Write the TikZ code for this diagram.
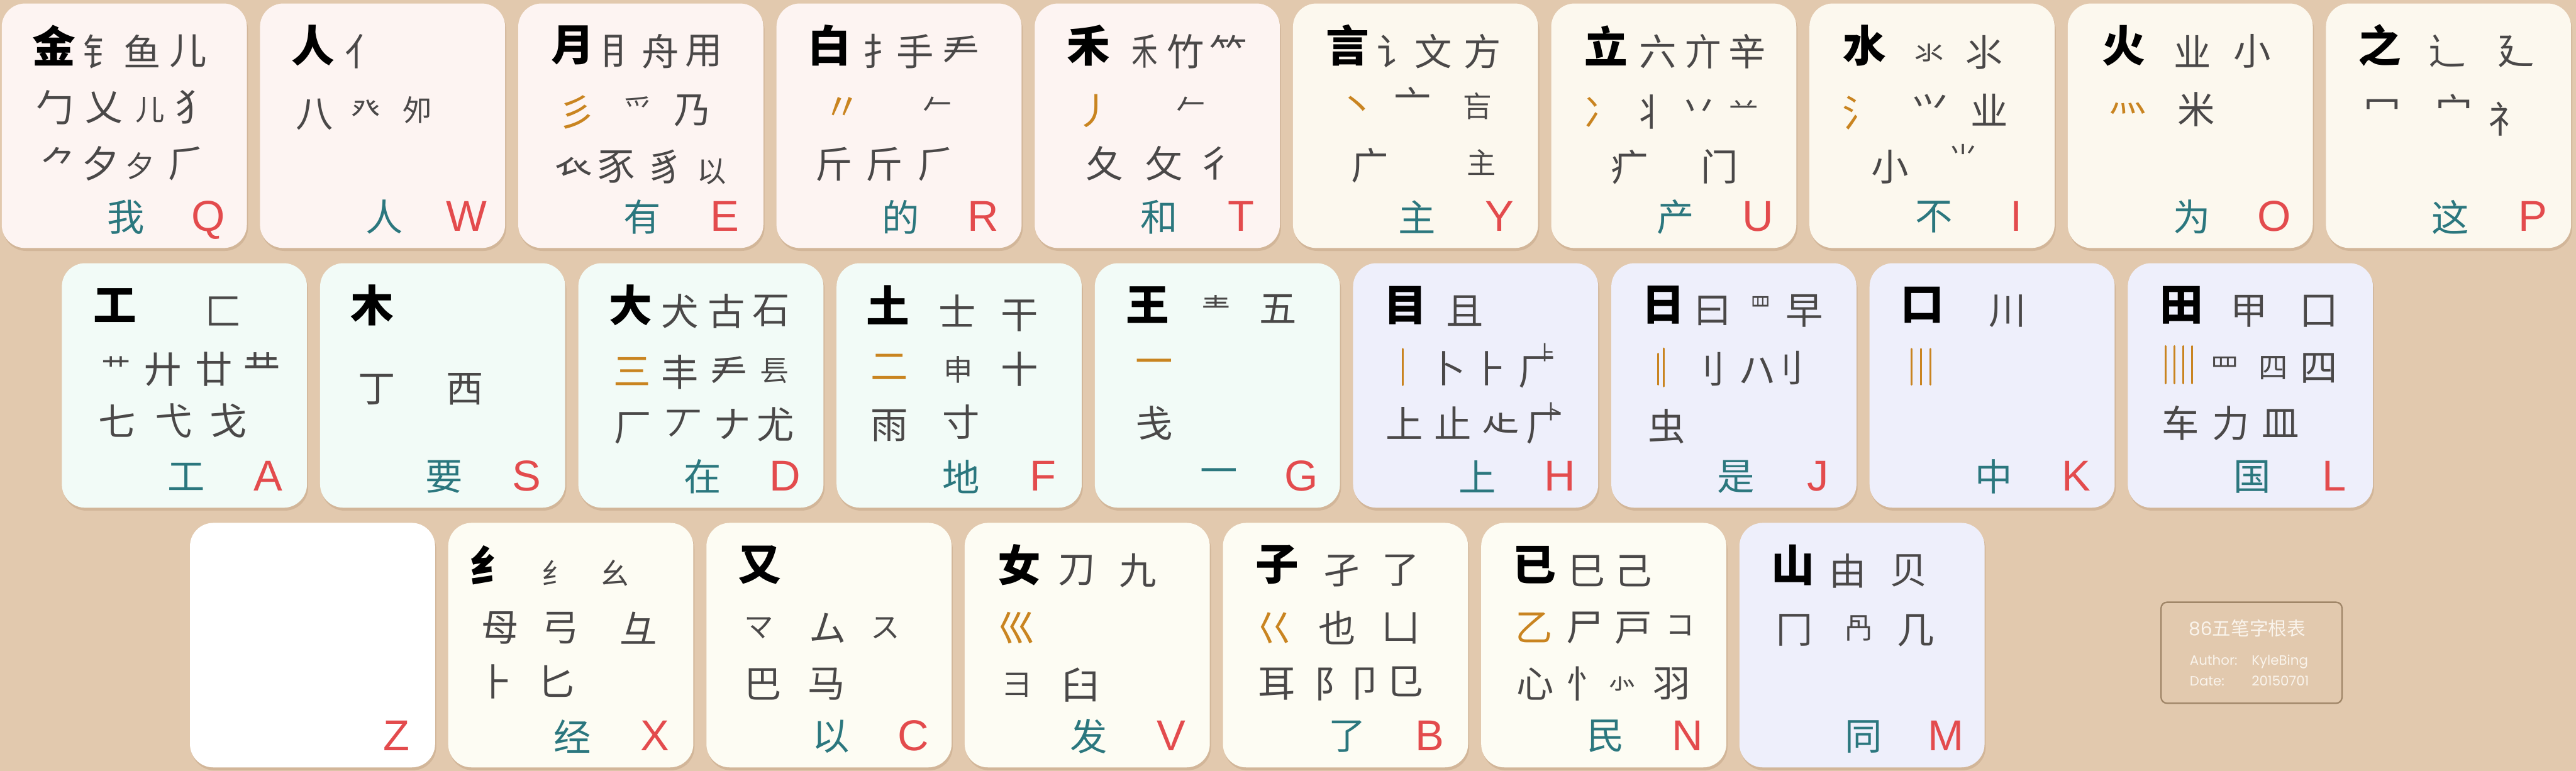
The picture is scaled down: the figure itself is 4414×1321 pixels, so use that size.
\documentclass[tikz,border=0pt]{standalone}
\usepackage{fontspec}
\setmainfont{Liberation Sans}
\newfontfamily\cjk{Noto Sans CJK SC}
\newfontfamily\geo{Poppins}
\definecolor{bgc}{HTML}{E2C9AE}
\definecolor{shadowc}{HTML}{D2B699}
\definecolor{pinkk}{HTML}{FDF4F2}
\definecolor{creamA}{HTML}{FCF8EE}
\definecolor{mintk}{HTML}{F2FBF7}
\definecolor{lavk}{HTML}{EEEFFB}
\definecolor{creamB}{HTML}{FDFCF3}
\definecolor{radgray}{HTML}{4A4848}
\definecolor{orng}{HTML}{C98420}
\definecolor{tealc}{HTML}{2B777E}
\definecolor{redc}{HTML}{E34B4D}
\definecolor{boxline}{HTML}{A08668}
\definecolor{boxtext}{HTML}{FAF4EC}
\newcounter{gc}
\newcommand\G[4][rad]{\stepcounter{gc}\node[#1] (g\thegc) at (#2,#3) {#4};}
\newcommand\Bt[2]{\stepcounter{gc}\node[hz] (g\thegc) at (213,366) {#1};\stepcounter{gc}\node[ltr] (g\thegc) at (354,390) {#2};}
\newcommand\Key[4]{\fill[shadowc] (#2+2,#3+5) [rounded corners=40] rectangle ++(420,419);
  \node[keybox, fill=#4] (key#1) at (#2+210,#3+209.5) {};}
\newcommand\tinyg[1]{{\fontsize{34}{34}\selectfont #1}}
\tikzset{
  keybox/.style={rectangle, minimum width=420pt, minimum height=419pt, rounded corners=40pt, inner sep=0pt, draw=none},
  main/.style={font=\cjk\bfseries\fontsize{74}{74}\selectfont, text=black, inner sep=0pt},
  rad/.style={font=\cjk\fontsize{64}{64}\selectfont, text=radgray, inner sep=0pt},
  smallrad/.style={rad, font=\cjk\fontsize{50}{50}\selectfont},
  baserad/.style={rad, anchor=base},
  org/.style={rad, text=orng},
  hz/.style={font=\cjk\fontsize{64}{64}\selectfont, text=tealc, inner sep=0pt},
  ltr/.style={font=\fontsize{74}{74}\selectfont, text=redc, inner sep=0pt, anchor=base},
  orl/.style={draw=orng, line width=3.2pt, line cap=round},
  info/.style={font=\geo\fontsize{23}{23}\selectfont, text=boxtext, inner sep=0pt, anchor=base west}
}
\begin{document}
\begin{tikzpicture}[x=1pt,y=-1pt]
\fill[bgc] (0,0) rectangle (4414,1321);
\useasboundingbox (0,0) rectangle (4414,1321);
% keys
\Key{Q}{3}{6}{pinkk}\Key{W}{445.5}{6}{pinkk}\Key{E}{888}{6}{pinkk}\Key{R}{1330.5}{6}{pinkk}\Key{T}{1773}{6}{pinkk}
\Key{Y}{2215.5}{6}{creamA}\Key{U}{2658}{6}{creamA}\Key{I}{3100.5}{6}{creamA}\Key{O}{3543}{6}{creamA}\Key{P}{3985.5}{6}{creamA}
\Key{A}{106}{451}{mintk}\Key{S}{548.5}{451}{mintk}\Key{D}{991}{451}{mintk}\Key{F}{1433.5}{451}{mintk}\Key{G}{1876}{451}{mintk}
\Key{H}{2318.5}{451}{lavk}\Key{J}{2761}{451}{lavk}\Key{K}{3203.5}{451}{lavk}\Key{L}{3646}{451}{lavk}
\Key{Z}{325.5}{896}{white}\Key{X}{768}{896}{creamB}\Key{C}{1210.5}{896}{creamB}\Key{V}{1653}{896}{creamB}\Key{B}{2095.5}{896}{creamB}\Key{N}{2538}{896}{creamB}
\Key{M}{2980.5}{896}{lavk}
% Q
\begin{scope}[shift={(3,6)}]
\G[main]{90}{72}{金}\G{171}{82}{钅}\G{241}{82}{鱼}\G{319}{82}{儿}
\G{91}{178}{勹}\G{175}{178}{乂}\G[smallrad]{254}{182}{儿}\G{329}{178}{犭}
\G{98}{274}{⺈}\G{170}{274}{夕}\G[smallrad]{237}{278}{夕}\G{317}{274}{⺁}
\Bt{我}{Q}
\end{scope}
% W
\begin{scope}[shift={(445.5,6)}]
\G[main]{91}{72}{人}\G{178}{82}{亻}
\G{93}{190}{八}\G[smallrad]{181}{183}{癶}\G[smallrad]{270}{183}{夘}
\Bt{人}{W}
\end{scope}
% E
\begin{scope}[shift={(888,6)}]
\G[main]{93}{72}{月}\G{173}{82}{⺝}\G{244}{82}{舟}\G{318}{82}{用}
\G[org]{100}{186}{彡}\G[smallrad]{206}{180}{爫}\G{299}{184}{乃}
\G{95}{280}{𧘇}\G{168}{280}{豕}\G{252}{280}{豸}\G[smallrad]{332}{288}{以}
\Bt{有}{E}
\end{scope}
% R
\begin{scope}[shift={(1330.5,6)}]
\G[main]{91}{72}{白}\G{179}{82}{扌}\G{238}{82}{手}\G{316}{82}{龵}
\G[org]{113}{180}{〃}\G[smallrad]{276}{176}{𠂉}
\G{99}{276}{斤}\G{185}{276}{斤}\G{274}{276}{⺁}
\Bt{的}{R}
\end{scope}
% T
\begin{scope}[shift={(1773,6)}]
\G[main]{92}{72}{禾}\G{189}{82}{\scalebox{0.7}[1]{禾}}\G{258}{82}{竹}\G{332}{82}{⺮}
\G[org]{102}{184}{丿}\G[smallrad]{268}{176}{𠂉}
\G{119}{274}{夂}\G{222}{274}{攵}\G{309}{274}{彳}
\Bt{和}{T}
\end{scope}
% Y
\begin{scope}[shift={(2215.5,6)}]
\G[main]{94}{72}{言}\G{176}{82}{讠}\G{241}{82}{文}\G{325}{82}{方}
\G[org]{110}{178}{丶}\G{205}{170}{亠}\G[smallrad]{317}{176}{吂}
\G{132}{278}{广}\G[smallrad]{323}{272}{主}
\Bt{主}{Y}
\end{scope}
% U
\begin{scope}[shift={(2658,6)}]
\G[main]{94}{72}{立}\G{183}{82}{六}\G{260}{82}{亣}\G{336}{82}{辛}
\G[org]{88}{186}{冫}\G{170}{186}{丬}\G{253}{182}{丷}\G[smallrad]{330}{180}{䒑}
\G{134}{280}{疒}\G{288}{280}{门}
\Bt{产}{U}
\end{scope}
% I
\begin{scope}[shift={(3100.5,6)}]
\G[main]{95}{72}{水}\G[smallrad]{205}{86}{氺}\G{300}{84}{⺢}
\G[org]{88}{188}{氵}\G{207}{182}{⺍}\G{308}{182}{业}
\G{138}{280}{小}\G[smallrad]{264}{262}{⺌}
\Bt{不}{I}
\end{scope}
% O
\begin{scope}[shift={(3543,6)}]
\G[main]{96}{72}{火}\G{214}{82}{业}\G{316}{82}{小}
\G[org]{103}{180}{灬}\G{220}{182}{米}
\Bt{为}{O}
\end{scope}
% P
\begin{scope}[shift={(3985.5,6)}]
\G[main]{92}{72}{之}\G{208}{82}{辶}\G{325}{82}{廴}
\G{97}{182}{冖}\G{220}{182}{宀}\G{310}{198}{礻}
\Bt{这}{P}
\end{scope}
% A
\begin{scope}[shift={(106,451)}]
\G[main]{91}{72}{工}\G{277}{82}{匚}
\G[smallrad]{93}{180}{艹}\G{173}{182}{廾}\G{261}{182}{廿}\G{343}{180}{龷}
\G{95}{270}{七}\G{192}{270}{弋}\G{285}{270}{戈}
\Bt{工}{A}
\end{scope}
% S
\begin{scope}[shift={(548.5,451)}]
\G[main]{89}{72}{木}
\G{97}{216}{丁}\G{248}{216}{西}
\Bt{要}{S}
\end{scope}
% D
\begin{scope}[shift={(991,451)}]
\G[main]{90}{72}{大}\G{174}{82}{犬}\G{254}{82}{古}\G{330}{82}{石}
\G[org]{92}{186}{三}\G{174}{187}{丰}\G{258}{187}{龵}\G[smallrad]{336}{185}{镸}
\G{93}{283}{厂}\G{181}{276}{丆}\G{264}{276}{ナ}\G{338}{276}{尤}
\Bt{在}{D}
\end{scope}
% F
\begin{scope}[shift={(1433.5,451)}]
\G[main]{88}{72}{土}\G{207}{82}{士}\G{313}{90}{干}
\G[org]{90}{178}{二}\G[smallrad]{209}{182}{申}\G{313}{182}{十}
\G{90}{278}{雨}\G{213}{272}{寸}
\Bt{地}{F}
\end{scope}
% G
\begin{scope}[shift={(1876,451)}]
\G[main]{91}{72}{王}\G[smallrad]{208}{76}{龶}\G{314}{78}{五}
\G[org]{102}{178}{一}
\G{102}{274}{戋}
\Bt{一}{G}
\end{scope}
% H
\begin{scope}[shift={(2318.5,451)}]
\G[main]{90}{72}{目}\G{191}{82}{且}
\draw[orl] (85,147) -- (85,209);
\G{161}{180}{卜}\G{235}{180}{⺊}
\G[baserad]{316}{209}{\rlap{厂}\hspace{31pt}\raisebox{43pt}{\tinyg{⺊}}}
\G{88}{274}{上}\G{171}{274}{止}\G{253}{274}{龰}
\G[baserad]{328}{305}{\rlap{厂}\hspace{29pt}\raisebox{38pt}{\tinyg{卜}}}
\Bt{上}{H}
\end{scope}
% J
\begin{scope}[shift={(2761,451)}]
\G[main]{89}{72}{日}\G{174}{82}{曰}\G[smallrad]{256}{76}{\scalebox{0.7}[1]{罒}}\G{331}{82}{早}
\draw[orl] (80,155) -- (80,208); \draw[orl] (90,146) -- (90,211);
\G{163}{182}{刂}\G{250}{184}{ハ}\G{298}{180}{刂}
\G{95}{280}{虫}
\Bt{是}{J}
\end{scope}
% K
\begin{scope}[shift={(3203.5,451)}]
\G[main]{91}{72}{口}\G{236}{82}{川}
\draw[orl] (72,147) -- (72,208); \draw[orl] (88,147) -- (88,208); \draw[orl] (104,147) -- (104,208);
\Bt{中}{K}
\end{scope}
% L
\begin{scope}[shift={(3646,451)}]
\G[main]{92}{72}{田}\G{208}{82}{甲}\G{327}{82}{囗}
\draw[orl] (65,142) -- (65,206); \draw[orl] (80,142) -- (80,206); \draw[orl] (95,142) -- (95,206); \draw[orl] (110,142) -- (110,206);
\G[smallrad]{166}{180}{罒}\G[smallrad]{249}{180}{四}\G{327}{180}{四}
\G{90}{274}{车}\G{177}{274}{力}\G{262}{274}{皿}
\Bt{国}{L}
\end{scope}
% Z
\begin{scope}[shift={(325.5,896)}]
\stepcounter{gc}\node[ltr] (g\thegc) at (354,390) {Z};
\end{scope}
% X
\begin{scope}[shift={(768,896)}]
\G[main]{75}{72}{纟}\G[smallrad]{185}{86}{纟}\G[smallrad]{286}{86}{幺}
\G{89}{180}{⺟}\G{192}{180}{弓}\G{326}{180}{⺔}
\G{82}{272}{⺊}\G{185}{272}{匕}
\Bt{经}{X}
\end{scope}
% C
\begin{scope}[shift={(1210.5,896)}]
\G[main]{91}{72}{又}
\G[smallrad]{90}{180}{マ}\G{208}{180}{ム}\G[smallrad]{307}{180}{ス}
\G{97}{276}{巴}\G{206}{276}{马}
\Bt{以}{C}
\end{scope}
% V
\begin{scope}[shift={(1653,896)}]
\G[main]{94}{72}{女}\G{192}{82}{刀}\G{297}{82}{九}
\G[org]{90}{180}{巛}
\G[smallrad]{90}{278}{彐}\G{199}{278}{臼}
\Bt{发}{V}
\end{scope}
% B
\begin{scope}[shift={(2095.5,896)}]
\G[main]{93}{72}{子}\G{203}{82}{孑}\G{305}{82}{了}
\G[org]{88}{180}{巜}\G{196}{180}{也}\G{305}{180}{凵}
\G{92}{276}{耳}\G{188}{276}{阝}\G{243}{276}{卩}\G{311}{272}{⺋}
\Bt{了}{B}
\end{scope}
% N
\begin{scope}[shift={(2538,896)}]
\G[main]{91}{72}{已}\G{181}{82}{巳}\G{261}{82}{己}
\G[org]{91}{180}{乙}\G{178}{180}{尸}\G{261}{180}{戸}\G[smallrad]{341}{176}{コ}
\G{93}{276}{心}\G{178}{276}{忄}\G[smallrad]{242}{276}{⺗}\G{326}{276}{羽}
\Bt{民}{N}
\end{scope}
% M
\begin{scope}[shift={(2980.5,896)}]
\G[main]{92}{72}{山}\G{186}{82}{由}\G{290}{82}{贝}
\G{94}{184}{冂}\G[smallrad]{205}{180}{冎}\G{302}{184}{几}
\Bt{同}{M}
\end{scope}
% info box
\draw[boxline, line width=2.5pt, rounded corners=10pt] (3703,1032) rectangle (4013,1205);
\node[info, font=\geo\fontsize{32}{32}\selectfont] (title) at (3750,1089) {86{\cjk 五笔字根表}};
\node[info] (auth) at (3752,1140) {Author:};
\node[info] (authn) at (3858,1140) {KyleBing};
\node[info] (date) at (3752,1175) {Date:};
\node[info] (daten) at (3858,1175) {20150701};
\end{tikzpicture}
\end{document}
